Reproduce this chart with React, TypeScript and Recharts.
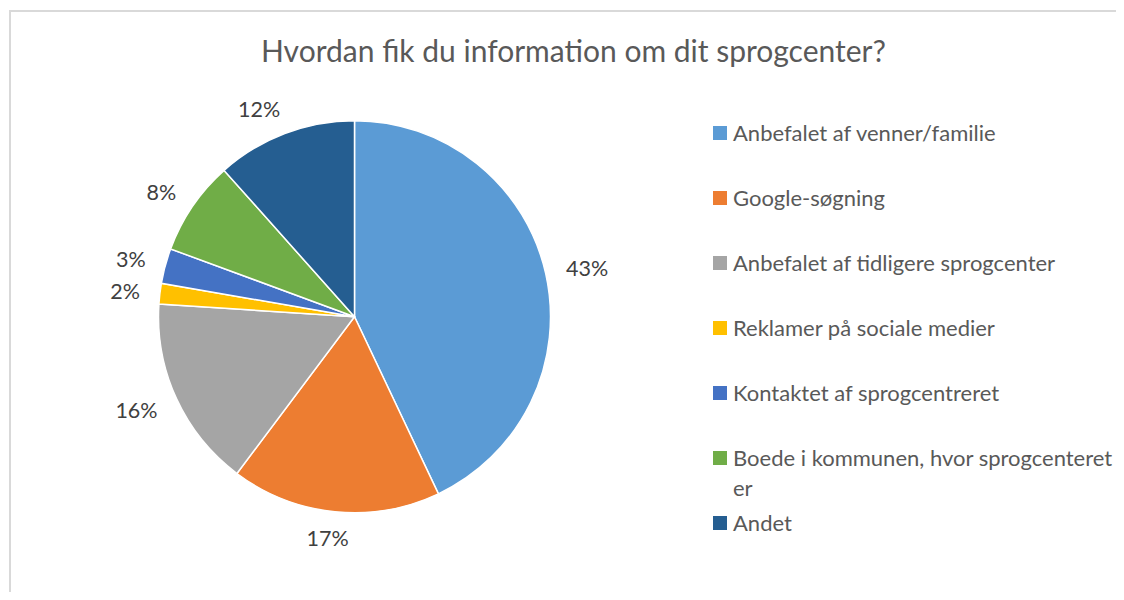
import { Cell, Legend, Pie, PieChart } from "recharts";

const categories = [
  "Anbefalet af venner/familie",
  "Google-søgning",
  "Anbefalet af tidligere sprogcenter",
  "Reklamer på sociale medier",
  "Kontaktet af sprogcentreret",
  "Boede i kommunen, hvor sprogcenteret er",
  "Andet",
];
const shares = [43, 17.3, 15.8, 1.7, 2.9, 7.8, 11.6];
const colors = ["#5B9BD5", "#ED7D31", "#A5A5A5", "#FFC000", "#4472C4", "#70AD47", "#255E91"];

const title = "Hvordan fik du information om dit sprogcenter?";
const FONT = "Lato, 'Open Sans', sans-serif";
const RADIAN = Math.PI / 180;

const data = categories.map((name, i) => ({ name, value: shares[i] }));

// label outside the slice, pushed away from the pie by part of its box
function renderLabel(props: any) {
  const { cx, cy, midAngle, outerRadius, percent } = props;
  const text = `${Math.round(percent * 100)}%`;
  const cos = Math.cos(-midAngle * RADIAN);
  const sin = Math.sin(-midAngle * RADIAN);
  const halfW = text.length * 7 - 1;
  const halfH = 8;
  const kx = Math.sign(cos) * Math.min(1, Math.abs(cos) * 2.5);
  const x = cx + (outerRadius + 22) * cos + halfW * kx;
  const y = cy + (outerRadius + 18 + halfH) * sin;
  return (
    <text
      x={x}
      y={y}
      fill="#404040"
      fontSize={21.5}
      fontFamily={FONT}
      textAnchor="middle"
      dominantBaseline="central"
    >
      {text}
    </text>
  );
}

function LegendBox({ payload }: any) {
  const items = [...(payload || [])].sort(
    (a: any, b: any) => categories.indexOf(a.value) - categories.indexOf(b.value)
  );
  return (
    <div style={{ fontFamily: FONT, fontSize: 22, color: "#595959" }}>
      {items.map((p: any) => (
        <div key={p.value} style={{ display: "flex", alignItems: "flex-start", height: 65 }}>
          <span
            style={{
              width: 14,
              height: 14,
              marginTop: 8,
              marginRight: 6,
              flex: "none",
              background: p.color,
            }}
          />
          <span style={{ lineHeight: "30px", width: 392 }}>{p.value}</span>
        </div>
      ))}
    </div>
  );
}

export default function App() {
  return (
    <div style={{ position: "relative", width: 1116, height: 584, fontFamily: FONT }}>
      <div
        style={{
          position: "absolute",
          left: 1,
          top: 2,
          right: 0,
          bottom: 0,
          borderTop: "2px solid #d9d9d9",
          borderLeft: "2px solid #d9d9d9",
        }}
      />
      <div
        style={{
          position: "absolute",
          left: 565.5,
          top: 22,
          transform: "translateX(-50%)",
          whiteSpace: "nowrap",
          fontSize: 30,
          lineHeight: "40px",
          color: "#595959",
        }}
      >
        {title}
      </div>
      <PieChart width={1116} height={584} margin={{ top: 0, right: 0, bottom: 0, left: 0 }}>
        <Pie
          data={data}
          dataKey="value"
          nameKey="name"
          cx={346.5}
          cy={308.7}
          outerRadius={196}
          startAngle={90}
          endAngle={-270}
          stroke="#ffffff"
          strokeWidth={1.5}
          label={renderLabel}
          labelLine={false}
          isAnimationActive={false}
        >
          {data.map((d, i) => (
            <Cell key={d.name} fill={colors[i]} />
          ))}
        </Pie>
        <Legend
          layout="vertical"
          align="right"
          verticalAlign="middle"
          content={<LegendBox />}
          wrapperStyle={{ left: 705, top: 110, right: "auto", width: 412 }}
        />
      </PieChart>
    </div>
  );
}
